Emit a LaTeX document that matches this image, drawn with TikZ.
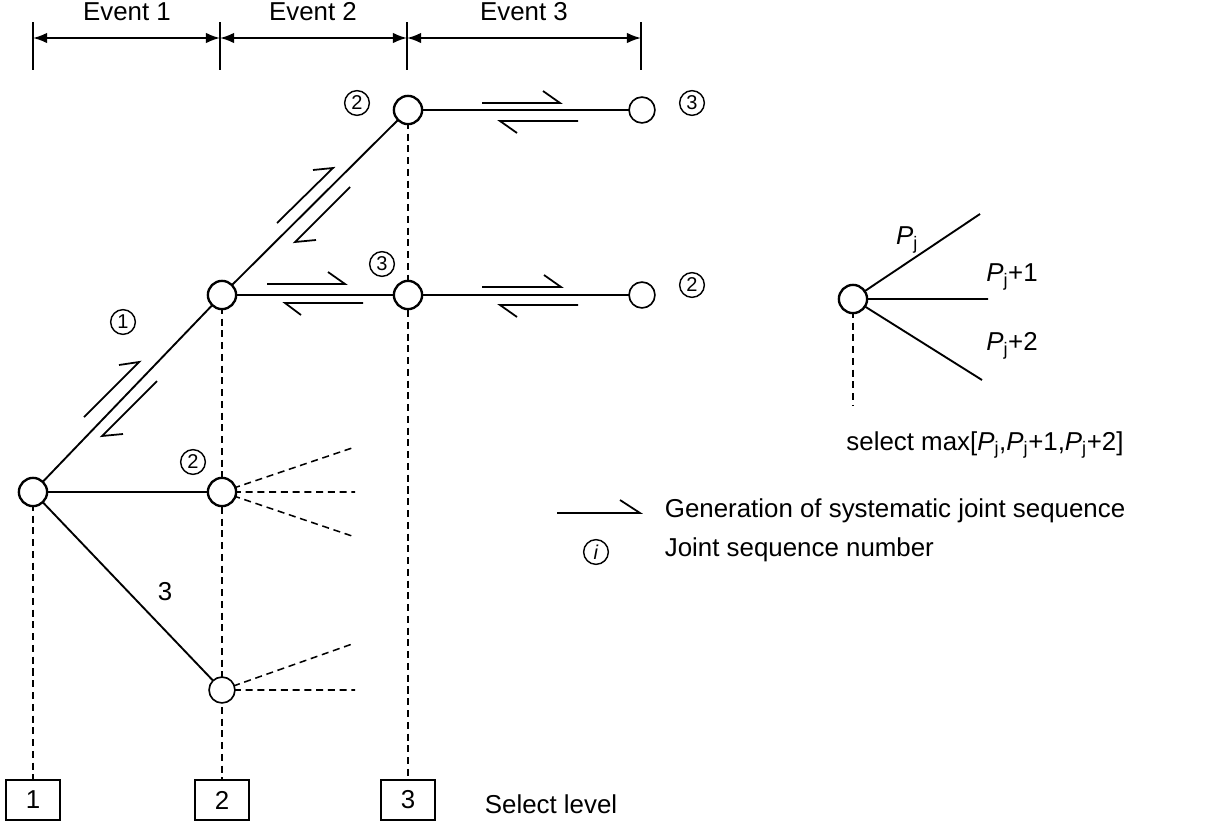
\documentclass[tikz,border=0pt]{standalone}
\usepackage{fontspec}
\setmainfont{Liberation Sans}
\usetikzlibrary{arrows.meta}
\begin{document}
\begin{tikzpicture}[x=0.85pt,y=-0.85pt,line width=1.6pt,
  font=\fontsize{22}{26}\selectfont,
  nd/.style={circle,draw,line width=2pt,fill=white,minimum size=24,inner sep=0pt},
  snd/.style={circle,draw,line width=1.4pt,fill=white,minimum size=22,inner sep=0pt},
  cn/.style={circle,draw,line width=1.2pt,minimum size=21,inner sep=0pt,font=\fontsize{17}{18}\selectfont},
  bx/.style={draw,line width=1.6pt,minimum width=46,minimum height=34,inner sep=0pt},
  dsh/.style={dashed,line width=1.3pt,dash pattern=on 6pt off 4pt},
  hp/.style={line width=1.5pt}]
\useasboundingbox (0,0) rectangle (1222,827);
% event bar
\foreach \x/\n in {33/t1,220/t2,407/t3,641/t4}{\coordinate (\n a) at (\x,22); \coordinate (\n b) at (\x,70); \draw (\n a)--(\n b); \coordinate (\n) at (\x,38);}
\draw[{Latex[length=12,width=9]}-{Latex[length=12,width=9]}] (t1)--(t2);
\draw[{Latex[length=12,width=9]}-{Latex[length=12,width=9]}] (t2)--(t3);
\draw[{Latex[length=12,width=9]}-{Latex[length=12,width=9]}] (t3)--(t4);
\node (e1) at (127,12) {Event 1};
\node (e2) at (313,12) {Event 2};
\node (e3) at (524,12) {Event 3};
% boxes
\node[bx] (b1) at (33,800) {1};
\node[bx] (b2) at (222,800) {2};
\node[bx] (b3) at (408,800) {3};
\node[anchor=west] (sl) at (480,804) {Select level};
% nodes
\coordinate (Ap) at (33,492); \coordinate (Bp) at (222,295); \coordinate (Cp) at (408,110);
\coordinate (Dp) at (408,295); \coordinate (Ep) at (642,110); \coordinate (Fp) at (642,295);
\coordinate (Gp) at (222,492); \coordinate (Hp) at (222,690);
\draw[dsh] (Ap)--(b1.north); \draw[dsh] (Bp)--(b2.north); \draw[dsh] (Cp)--(b3.north);
\draw[dsh] (Gp)--(355,447) (Gp)--(355,492) (Gp)--(355,537);
\draw[dsh] (Hp)--(355,643) (Hp)--(355,690);
\draw (Ap)--(Bp)--(Cp)--(Ep) (Bp)--(Fp) (Ap)--(Gp) (Ap)--(Hp);
\node[nd] (A) at (Ap) {}; \node[nd] (B) at (Bp) {}; \node[nd] (C) at (Cp) {};
\node[nd] (D) at (Dp) {}; \node[snd] (E) at (Ep) {}; \node[snd] (F) at (Fp) {};
\node[nd] (G) at (Gp) {}; \node[snd] (H) at (Hp) {};
% harpoons
\draw[hp] (84,417)--(139,362)--(119,365);
\draw[hp] (157,381)--(102,436)--(123,434);
\draw[hp] (277,223)--(333,168)--(313,170);
\draw[hp] (350,187)--(295,242)--(316,240);
\draw[hp] (267,284)--(345,284)--(328,272);
\draw[hp] (363,303)--(285,303)--(301,315);
\draw[hp] (482,103)--(560,103)--(543,91);
\draw[hp] (578,121)--(500,121)--(517,133);
\draw[hp] (482,287)--(561,287)--(544,275);
\draw[hp] (578,305)--(500,305)--(517,317);
% circled numbers
\node[cn] (n1) at (123,322) {1};
\node[cn] (n2) at (357,103) {2};
\node[cn] (n3) at (692,103) {3};
\node[cn] (n4) at (382,264) {3};
\node[cn] (n5) at (692,285) {2};
\node[cn] (n6) at (193,462) {2};
\node (l3) at (165,592) {3};
% right figure
\coordinate (Rp) at (853,299);
\draw[dsh] (Rp)--(853,405);
\draw (Rp)--(980,214) (Rp)--(988,299) (Rp)--(982,380);
\node[nd] (R) at (Rp) {};
\node (pj) at (907,240) {$\mathit{P}_{\mathrm{j}}$};
\node (pj1) at (1012,277) {$\mathit{P}_{\mathrm{j}}$+1};
\node (pj2) at (1012,346) {$\mathit{P}_{\mathrm{j}}$+2};
\node (sm) at (985,445) {select max[$\mathit{P}_{\mathrm{j}}$,$\mathit{P}_{\mathrm{j}}$+1,$\mathit{P}_{\mathrm{j}}$+2]};
% legend
\draw[hp] (557,513)--(640,513)--(620,500);
\node[anchor=west] (lg1) at (660,511) {Generation of systematic joint sequence};
\node[cn] (ci) at (596,552) {\textit{i}};
\node[anchor=west] (lg2) at (660,550) {Joint sequence number};
\end{tikzpicture}
\end{document}
